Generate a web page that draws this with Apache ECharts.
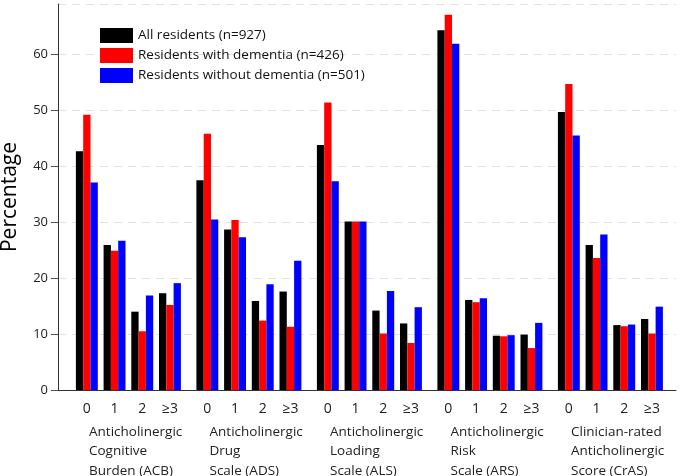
<!DOCTYPE html>
<html>
<head>
<meta charset="utf-8">
<script src="https://cdn.jsdelivr.net/npm/echarts@6/dist/echarts.min.js"></script>
<style>
  html, body { margin: 0; padding: 0; background: #fff; }
  #main { width: 680px; height: 476px; }
</style>
</head>
<body>
<div id="main"></div>
<script>
// scales (one group of bars each) and score levels
var scales = [
  'Anticholinergic\nCognitive\nBurden (ACB)',
  'Anticholinergic\nDrug\nScale (ADS)',
  'Anticholinergic\nLoading\nScale (ALS)',
  'Anticholinergic\nRisk\nScale (ARS)',
  'Clinician-rated\nAnticholinergic\nScore (CrAS)'
];
var levels = ['0', '1', '2', '≥3'];
var seriesNames = ['All residents (n=927)', 'Residents with dementia (n=426)', 'Residents without dementia (n=501)'];

// percentages, one row per scale, values for levels 0,1,2,>=3
var allResidents = [
  [42.7, 25.9, 14.0, 17.3],
  [37.5, 28.7, 15.9, 17.6],
  [43.8, 30.1, 14.2, 11.9],
  [64.3, 16.1, 9.7, 9.9],
  [49.7, 25.9, 11.6, 12.7]
];
var withDementia = [
  [49.2, 24.9, 10.5, 15.2],
  [45.8, 30.4, 12.4, 11.3],
  [51.4, 30.1, 10.1, 8.4],
  [67.1, 15.7, 9.6, 7.5],
  [54.7, 23.6, 11.4, 10.1]
];
var withoutDementia = [
  [37.1, 26.7, 16.9, 19.1],
  [30.5, 27.3, 18.9, 23.1],
  [37.3, 30.1, 17.7, 14.8],
  [61.9, 16.4, 9.8, 12.0],
  [45.5, 27.8, 11.7, 14.9]
];
var yTicks = [0, 10, 20, 30, 40, 50, 60];

var colors = ['#000000', '#ff0000', '#0000ff'];
var values = [allResidents, withDementia, withoutDementia];

var yMax = 69;
var gridTop = 4, gridBottom = 86;
var firstLeft = 73, groupWidth = 110.8, groupPitch = 120.5;

var myChart = echarts.init(document.getElementById('main'));

var grids = [], xAxes = [], yAxes = [], series = [];
scales.forEach(function (name, i) {
  grids.push({
    left: firstLeft + i * groupPitch, width: groupWidth, top: gridTop, bottom: gridBottom,
    containLabel: false, outerBoundsMode: 'none'
  });
  xAxes.push({
    type: 'category',
    gridIndex: i,
    data: levels,
    axisLine: { show: false },
    axisTick: { show: false },
    axisLabel: { fontSize: 14, color: '#222', margin: 12, fontFamily: 'Open Sans' },
    name: name,
    nameLocation: 'start',
    nameGap: -16,
    nameMoveOverlap: false,
    nameTextStyle: {
      align: 'left', verticalAlign: 'top', fontSize: 13.5, lineHeight: 19.5,
      color: '#222', fontFamily: 'Open Sans', padding: [32, 0, 0, 0]
    }
  });
  yAxes.push({ type: 'value', gridIndex: i, min: 0, max: yMax, show: false, splitLine: { show: false } });
  values.forEach(function (v, k) {
    series.push({
      name: seriesNames[k],
      type: 'bar',
      xAxisIndex: i,
      yAxisIndex: i,
      data: v[i],
      barWidth: 7.3,
      barGap: '0%',
      itemStyle: { color: colors[k] }
    });
  });
});

// background grid carries the y axis, dashed grid lines and the x axis line
grids.push({ left: 58, right: 4, top: gridTop, bottom: gridBottom, containLabel: false, outerBoundsMode: 'none' });
xAxes.push({
  type: 'value', gridIndex: scales.length, min: 0, max: 1,
  axisLine: { show: true, lineStyle: { color: '#333', width: 1 } },
  axisTick: { show: false }, axisLabel: { show: false }, splitLine: { show: false }
});
yAxes.push({
  type: 'value', gridIndex: scales.length, min: 0, max: yMax, interval: 10,
  name: 'Percentage',
  nameLocation: 'middle',
  nameGap: 37,
  nameTextStyle: { fontSize: 21, color: '#000', fontFamily: 'Open Sans' },
  axisLine: { show: true, lineStyle: { color: '#333', width: 1 } },
  axisTick: { show: true, length: 7, lineStyle: { color: '#555' } },
  axisLabel: {
    fontSize: 13, color: '#222', margin: 10, fontFamily: 'Open Sans', showMaxLabel: false,
    formatter: function (v) { return yTicks.indexOf(v) >= 0 ? v : ''; }
  },
  splitLine: { show: true, lineStyle: { color: '#e2e2e2', type: [8, 6], width: 1 } }
});

var option = {
  animation: false,
  color: colors,
  legend: {
    data: seriesNames,
    orient: 'vertical',
    left: 95,
    top: 23,
    itemWidth: 33,
    itemHeight: 15,
    itemGap: 5,
    icon: 'rect',
    textStyle: { fontSize: 13.5, color: '#111', fontFamily: 'Open Sans' }
  },
  grid: grids,
  xAxis: xAxes,
  yAxis: yAxes,
  series: series
};
myChart.setOption(option);
</script>
</body>
</html>
